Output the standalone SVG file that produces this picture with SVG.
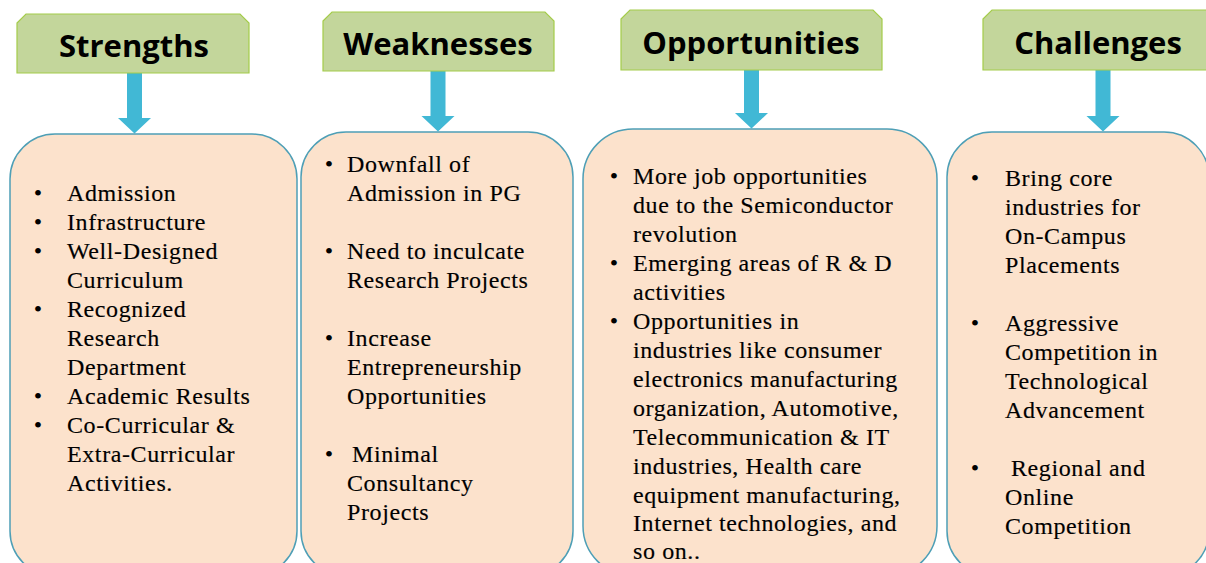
<svg xmlns="http://www.w3.org/2000/svg" width="1206" height="563" viewBox="0 0 1206 563">
<style>
.hdr{fill:#C3D69B;stroke:#A4CC4A;stroke-width:1.2}
.ht{font-family:"Open Sans","Liberation Sans",sans-serif;font-weight:700;font-size:31px;fill:#000;text-anchor:middle}
.box{fill:#FCE2CC;stroke:#4E9FB6;stroke-width:1.5}
.arr{fill:#41B8D5}
.t{font-family:"Liberation Serif","DejaVu Serif",serif;font-size:24px;letter-spacing:0.6px;fill:#000;stroke:#000;stroke-width:0.15}
.bl{font-family:"Liberation Serif",serif;font-size:24px;fill:#000;text-anchor:middle}
</style>
<rect width="1206" height="563" fill="#fff"/>
<g id="connectors">
<polygon class="arr" points="127,73 142,73 142,118 151,118 134.5,133.5 118,118 127,118"/>
<polygon class="arr" points="430.5,71 445.5,71 445.5,116 454.5,116 438,131.5 421.5,116 430.5,116"/>
<polygon class="arr" points="744,70 759,70 759,113 768,113 751.5,128.5 735,113 744,113"/>
<polygon class="arr" points="1095.5,70 1110.5,70 1110.5,116 1119.5,116 1103,131.5 1086.5,116 1095.5,116"/>
</g>
<g id="strengths-header">
<path class="hdr" d="M17,23 L26,14 L240,14 L249,23 L249,73 L17,73 Z"/>
<text class="ht" x="134" y="57">Strengths</text>
</g>
<g id="weaknesses-header">
<path class="hdr" d="M323,21 L332,12 L545,12 L554,21 L554,71 L323,71 Z"/>
<text class="ht" x="438" y="55">Weaknesses</text>
</g>
<g id="opportunities-header">
<path class="hdr" d="M621,19 L630,10 L873,10 L882,19 L882,70 L621,70 Z"/>
<text class="ht" x="751" y="53.5">Opportunities</text>
</g>
<g id="challenges-header">
<path class="hdr" d="M983,19 L992,10 L1215,10 L1224,19 L1224,70 L983,70 Z"/>
<text class="ht" x="1098" y="53.5">Challenges</text>
</g>
<g id="strengths-box">
<rect class="box" x="10" y="134" width="287" height="442" rx="45"/>
<g class="bl">
<text x="38" y="201">•</text><text x="38" y="230">•</text><text x="38" y="259">•</text><text x="38" y="317">•</text><text x="38" y="404">•</text><text x="38" y="433">•</text>
</g>
<g class="t">
<text x="67" y="201">Admission</text>
<text x="67" y="230">Infrastructure</text>
<text x="67" y="259">Well-Designed</text>
<text x="67" y="288">Curriculum</text>
<text x="67" y="317">Recognized</text>
<text x="67" y="346">Research</text>
<text x="67" y="375">Department</text>
<text x="67" y="404">Academic Results</text>
<text x="67" y="433">Co-Curricular &amp;</text>
<text x="67" y="462">Extra-Curricular</text>
<text x="67" y="491">Activities.</text>
</g>
</g>
<g id="weaknesses-box">
<rect class="box" x="301" y="132" width="272" height="444" rx="45"/>
<g class="bl">
<text x="329" y="172">•</text><text x="329" y="259">•</text><text x="329" y="346">•</text><text x="329" y="462">•</text>
</g>
<g class="t">
<text x="347" y="172">Downfall of</text>
<text x="347" y="201">Admission in PG</text>
<text x="347" y="259">Need to inculcate</text>
<text x="347" y="288">Research Projects</text>
<text x="347" y="346">Increase</text>
<text x="347" y="375">Entrepreneurship</text>
<text x="347" y="404">Opportunities</text>
<text x="352" y="462">Minimal</text>
<text x="347" y="491">Consultancy</text>
<text x="347" y="520">Projects</text>
</g>
</g>
<g id="opportunities-box">
<rect class="box" x="583" y="129" width="354" height="447" rx="50"/>
<g class="bl">
<text x="614" y="184">•</text><text x="614" y="271">•</text><text x="614" y="329">•</text>
</g>
<g class="t">
<text x="633" y="184">More job opportunities</text>
<text x="633" y="213">due to the Semiconductor</text>
<text x="633" y="242">revolution</text>
<text x="633" y="271">Emerging areas of R &amp; D</text>
<text x="633" y="300">activities</text>
<text x="633" y="329">Opportunities in</text>
<text x="633" y="358">industries like consumer</text>
<text x="633" y="387">electronics manufacturing</text>
<text x="633" y="416">organization, Automotive,</text>
<text x="633" y="445">Telecommunication &amp; IT</text>
<text x="633" y="474">industries, Health care</text>
<text x="633" y="503">equipment manufacturing,</text>
<text x="633" y="531">Internet technologies, and</text>
<text x="633" y="559">so on..</text>
</g>
</g>
<g id="challenges-box">
<rect class="box" x="947" y="132" width="262" height="444" rx="45"/>
<g class="bl">
<text x="975" y="186">•</text><text x="975" y="331">•</text><text x="975" y="476">•</text>
</g>
<g class="t">
<text x="1005" y="186">Bring core</text>
<text x="1005" y="215">industries for</text>
<text x="1005" y="244">On-Campus</text>
<text x="1005" y="273">Placements</text>
<text x="1005" y="331">Aggressive</text>
<text x="1005" y="360">Competition in</text>
<text x="1005" y="389">Technological</text>
<text x="1005" y="418">Advancement</text>
<text x="1011" y="476">Regional and</text>
<text x="1005" y="505">Online</text>
<text x="1005" y="534">Competition</text>
</g>
</g>
</svg>
